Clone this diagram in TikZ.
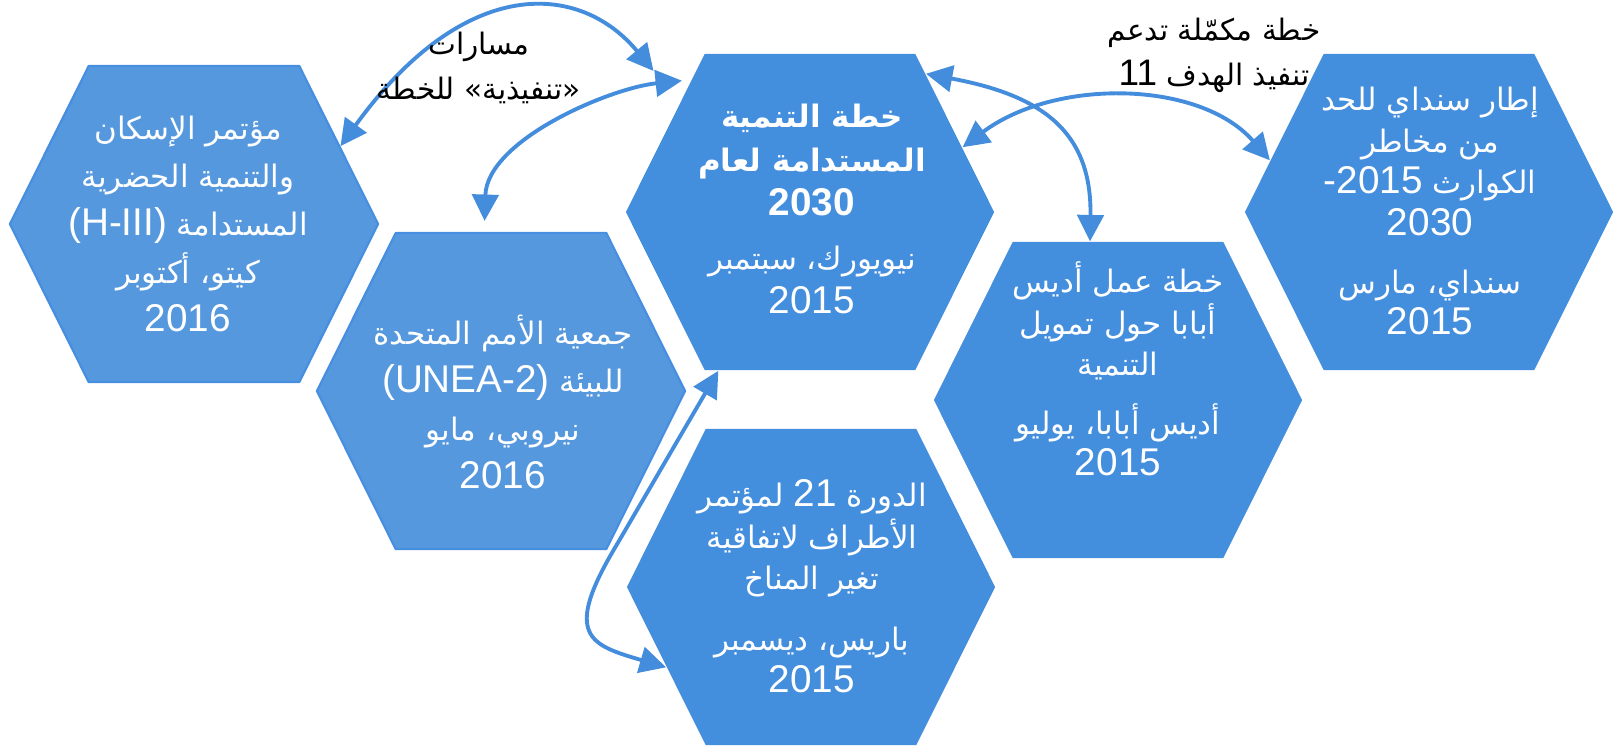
\documentclass[tikz,border=0pt]{standalone}
\usepackage{fontspec}
\setmainfont{Liberation Sans}
\newfontfamily\arabicfont[Script=Arabic,Scale=0.8]{DejaVu Sans}
\TeXXeTstate=1
\usetikzlibrary{shapes.symbols,arrows.meta}
\definecolor{hexlight}{RGB}{86,152,222}
\definecolor{hexedge}{RGB}{70,142,224}
\definecolor{hexdark}{RGB}{68,142,222}
\definecolor{arrowblue}{RGB}{68,140,220}
\newcommand{\artext}[1]{{\arabicfont\beginR#1\endR}}
\begin{document}
\begin{tikzpicture}[x=0.01cm, y=-0.01cm, line join=round, line cap=round,
	hex/.style={signal, signal to=east and west, signal pointer angle=127, minimum width=3.68cm, inner xsep=0pt, inner ysep=1.58cm},
	hexpale/.style={hex, fill=hexlight, draw=hexedge, line width=0.6pt},
	hexdeep/.style={hex, fill=hexdark},
	hextext/.style={align=center, inner sep=0pt, text=white, font=\fontsize{11}{11.8}\selectfont},
	link/.style={arrowblue, line width=1.1pt, {Triangle[length=7.5pt,width=7.5pt]}-{Triangle[length=7.5pt,width=7.5pt]}},
	note/.style={align=center, font=\fontsize{10.5}{12.8}\selectfont}]
	%%%%%%%%%%%%%%%%%%%%%%%%%%%%%%%%%
	\useasboundingbox (0,0) rectangle (1621,747);
	%%%%%%%%%%%%%%%%%%%%%%%%%%%%%%%%%
	\node[hexpale] (A) at (194,224) {};
	\node[hexpale] (B) at (501,391) {};
	\node[hexdeep] (C) at (810,212) {};
	\node[hexdeep] (D) at (811,587) {};
	\node[hexdeep] (E) at (1118,400) {};
	\node[hexdeep] (F) at (1429,212) {};
	%%%%%%%%%%%%%%%%%%%%%%%%%%%%%%%%%
	\node[hextext, font=\fontsize{11}{13.6}\selectfont] (Atxt) at (188,224) {\artext{مؤتمر الإسكان}\\ \artext{والتنمية الحضرية}\\ \artext{المستدامة {\rmfamily(H-III)}}\\ \artext{كيتو، أكتوبر}\\ 2016};
	\node[hextext, font=\fontsize{11}{13.6}\selectfont] (Btxt) at (503,402) {\artext{جمعية الأمم المتحدة}\\ \artext{للبيئة {\rmfamily(UNEA-2)}}\\ \artext{نيروبي، مايو}\\ 2016};
	\node[hextext, font=\fontsize{11}{12.5}\selectfont] (Ctxt) at (812,209) {{\bfseries\artext{خطة التنمية}}\\ {\bfseries\artext{المستدامة لعام}}\\ {\bfseries 2030}\\[3pt] \artext{نيويورك، سبتمبر}\\ 2015};
	\node[hextext] (Dtxt) at (812,586) {\artext{الدورة {\rmfamily 21} لمؤتمر}\\ \artext{الأطراف لاتفاقية}\\ \artext{تغير المناخ}\\[5.5pt] \artext{باريس، ديسمبر}\\ 2015};
	\node[hextext] (Etxt) at (1118,369) {\artext{خطة عمل أديس}\\ \artext{أبابا حول تمويل}\\ \artext{التنمية}\\[4.8pt] \artext{أديس أبابا، يوليو}\\ 2015};
	\node[hextext] (Ftxt) at (1430,211) {\artext{إطار سنداي للحد}\\ \artext{من مخاطر}\\ \artext{الكوارث {\rmfamily -2015}}\\ 2030\\[4.7pt] \artext{سنداي، مارس}\\ 2015};
	%%%%%%%%%%%%%%%%%%%%%%%%%%%%%%%%%
	\draw[link, shorten >=0.41cm] (A.28) .. controls (465,-26) and (580,-18) .. (C.140);
	\draw[link, shorten <=0.09cm, shorten >=0.11cm] (C.132) .. controls (610,88) and (487,140) .. (B.96);
	\draw[link] (C.50) .. controls (1040,95) and (1092,130) .. (E.100);
	\draw[link] (C.23) .. controls (1055,78) and (1200,80) .. (F.162);
	\draw[link] (C.240) -- (616,546) .. controls (562,636) and (590,645) .. (D.209);
	%%%%%%%%%%%%%%%%%%%%%%%%%%%%%%%%%
	\node[note] (paths) at (479,68) {\artext{مسارات}\\ \artext{«تنفيذية» للخطة}};
	\node[note] (goal) at (1214,55) {\artext{خطة مكمّلة تدعم}\\ \artext{تنفيذ الهدف {\rmfamily 11}}};
	%%%%%%%%%%%%%%%%%%%%%%%%%%%%%%%%%
\end{tikzpicture}
\end{document}
